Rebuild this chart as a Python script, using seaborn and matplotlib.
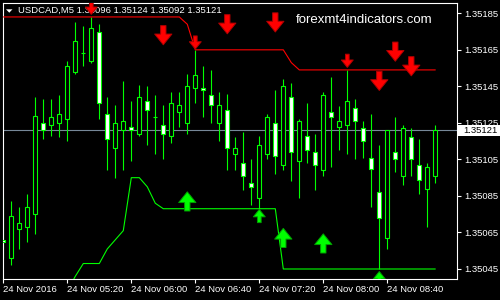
import matplotlib
matplotlib.use("Agg")
import matplotlib.pyplot as plt
import seaborn as sns
import pandas as pd
import numpy as np
from matplotlib.path import Path
from matplotlib.patches import Rectangle, Polygon

# ---------------- data ----------------
opens = [1.35061, 1.35051, 1.35067, 1.35068, 1.35075, 1.35125, 1.35124, 1.35125, 1.35127, 1.35153,
         1.35163, 1.35159, 1.35175, 1.35130, 1.35111, 1.35121, 1.35123, 1.35119, 1.35137, 1.35128,
         1.35124, 1.35118, 1.35131, 1.35125, 1.35144, 1.35144, 1.35140, 1.35125, 1.35132, 1.35108,
         1.35103, 1.35092, 1.35084, 1.35108, 1.35125, 1.35102, 1.35139, 1.35104, 1.35118, 1.35109,
         1.35099, 1.35131, 1.35123, 1.35124, 1.35133, 1.35122, 1.35106, 1.35087, 1.35062, 1.35109,
         1.35096, 1.35117, 1.35102, 1.35089, 1.35096]
highs = [1.35084, 1.35082, 1.35079, 1.35086, 1.35139, 1.35138, 1.35138, 1.35140, 1.35159, 1.35180,
         1.35178, 1.35183, 1.35179, 1.35139, 1.35135, 1.35148, 1.35137, 1.35146, 1.35145, 1.35140,
         1.35135, 1.35142, 1.35142, 1.35152, 1.35165, 1.35156, 1.35154, 1.35142, 1.35141, 1.35117,
         1.35120, 1.35105, 1.35118, 1.35130, 1.35143, 1.35149, 1.35147, 1.35127, 1.35136, 1.35119,
         1.35142, 1.35150, 1.35134, 1.35154, 1.35138, 1.35126, 1.35130, 1.35113, 1.35121, 1.35128,
         1.35124, 1.35122, 1.35116, 1.35103, 1.35124]
lows = [1.35051, 1.35047, 1.35056, 1.35060, 1.35064, 1.35116, 1.35118, 1.35117, 1.35115, 1.35152,
        1.35156, 1.35158, 1.35127, 1.35099, 1.35095, 1.35099, 1.35104, 1.35118, 1.35113, 1.35108,
        1.35105, 1.35114, 1.35123, 1.35119, 1.35136, 1.35128, 1.35125, 1.35115, 1.35099, 1.35099,
        1.35088, 1.35080, 1.35078, 1.35105, 1.35097, 1.35099, 1.35093, 1.35084, 1.35103, 1.35088,
        1.35096, 1.35101, 1.35110, 1.35108, 1.35105, 1.35106, 1.35079, 1.35045, 1.35056, 1.35098,
        1.35091, 1.35096, 1.35086, 1.35068, 1.35092]
closes = [1.35060, 1.35074, 1.35070, 1.35079, 1.35129, 1.35121, 1.35128, 1.35130, 1.35156, 1.35170,
          1.35163, 1.35177, 1.35136, 1.35116, 1.35125, 1.35126, 1.35121, 1.35139, 1.35132, 1.35128,
          1.35119, 1.35136, 1.35135, 1.35145, 1.35151, 1.35143, 1.35135, 1.35135, 1.35111, 1.35111,
          1.35096, 1.35090, 1.35113, 1.35128, 1.35107, 1.35145, 1.35109, 1.35126, 1.35110, 1.35102,
          1.35140, 1.35128, 1.35126, 1.35137, 1.35126, 1.35115, 1.35100, 1.35073, 1.35121, 1.35105,
          1.35122, 1.35105, 1.35094, 1.35101, 1.35121]

red_line = [1.35183] * 23 + [1.35179] + [1.35165] * 12 + [1.35158] + [1.35154] * 18
green_line = ([np.nan] * 8 + [1.35033, 1.35041, 1.35048, 1.35048, 1.35048, 1.35056, 1.35061, 1.35066,
              1.35095, 1.35095, 1.35090, 1.35081] + [1.35078] * 15 + [1.35045] * 20)

sell_idx = [11, 20, 24, 28, 34, 43, 47, 49, 51]
sell_price = [1.35188, 1.35173, 1.35169, 1.35179, 1.35180, 1.35159, 1.35148, 1.35164, 1.35156]
sell_big = [False, True, False, True, True, False, True, True, True]

buy_idx = [23, 32, 35, 40, 47]
buy_price = [1.35082, 1.35074, 1.35062, 1.35059, 1.35040]
buy_big = [True, False, True, True, False]

x_tick_pos = [0, 8, 16, 24, 32, 40, 48]
x_tick_labels = ["24 Nov 2016", "24 Nov 05:20", "24 Nov 06:00", "24 Nov 06:40",
                 "24 Nov 07:20", "24 Nov 08:00", "24 Nov 08:40"]
y_ticks = [1.35045, 1.35065, 1.35085, 1.35105, 1.35125, 1.35145, 1.35165, 1.35185]
last_price = 1.35121
title_text = "USDCAD,M5 1.35096 1.35124 1.35092 1.35121"
watermark = "forexmt4indicators.com"

# ---------------- style ----------------
sns.set_theme(style="dark", rc={"axes.facecolor": "black", "figure.facecolor": "black"})
plt.rcParams["font.family"] = ["Liberation Sans", "DejaVu Sans"]

LIME = "#00FF00"
W, H = 500, 300
L, R, T, B = 2.7, 457.3, 2.7, 279.3

fig = plt.figure(figsize=(5, 3), dpi=100, facecolor="black")
ax = fig.add_axes([L / W, 1 - B / H, (R - L) / W, (B - T) / H])
ax.set_facecolor("black")

df = pd.DataFrame({"idx": np.arange(len(opens)), "open": opens, "high": highs,
                   "low": lows, "close": closes, "red": red_line, "green": green_line})
bull = df["close"] >= df["open"]

ax.axhline(last_price, color="#778899", lw=0.8, zorder=1)
ax.vlines(df["idx"], df["low"], df["high"], color=LIME, lw=0.8, zorder=2)
ax.bar(df["idx"], (df["close"] - df["open"]).abs(), bottom=df[["open", "close"]].min(axis=1),
       width=0.5, color=np.where(bull, "black", "white"), edgecolor=LIME, linewidth=0.8, zorder=3)

sns.lineplot(data=df, x="idx", y="red", color="#FF0000", lw=0.8, ax=ax, zorder=4, legend=False)
sns.lineplot(data=df.dropna(subset=["green"]), x="idx", y="green", color=LIME, lw=0.8,
             ax=ax, zorder=4, legend=False)

# arrow markers
ws, wh, yb = 0.28, 0.9, 0.12
down_verts = [(-ws, 1), (ws, 1), (ws, yb), (wh, yb), (0, -1), (-wh, yb), (-ws, yb), (-ws, 1)]
down_marker = Path(down_verts, closed=True)
up_marker = Path([(x, -y) for x, y in down_verts], closed=True)
big_s, small_s = 190, 90

ax.scatter(sell_idx, sell_price, marker=down_marker,
           s=[big_s if b else small_s for b in sell_big],
           c="#FF0000", edgecolors="#B00000", linewidths=0.7, zorder=6)
ax.scatter(buy_idx, buy_price, marker=up_marker,
           s=[big_s if b else small_s for b in buy_big],
           c=LIME, edgecolors="#00A000", linewidths=0.7, zorder=6)

ax.set_xlim(-0.075, 56.75)
ax.set_ylim(1.3503936, 1.351908)
ax.set_xlabel("")
ax.set_ylabel("")

ax.set_xticks(x_tick_pos)
ax.set_xticklabels(x_tick_labels, ha="left")
ax.tick_params(axis="x", colors="white", length=3, width=0.8, pad=1, labelsize=6.8,
               direction="out", bottom=True)
ax.yaxis.tick_right()
ax.set_yticks(y_ticks)
ax.set_yticklabels([f"{v:.5f}" for v in y_ticks])
ax.tick_params(axis="y", colors="white", length=3, width=0.8, pad=2, labelsize=6.8,
               direction="out", right=True, left=False)
ax.grid(False)
for s in ax.spines.values():
    s.set_color("white")
    s.set_linewidth(0.8)

# texts
ax.text(18.3 / W, 1 - 10.5 / H, title_text, transform=fig.transFigure, color="white",
        fontsize=6.8, va="center", ha="left", zorder=5)
fig.add_artist(Polygon([(6 / W, 1 - 9.3 / H), (12.5 / W, 1 - 9.3 / H), (9.25 / W, 1 - 12.7 / H)],
                       closed=True, transform=fig.transFigure, facecolor="white", edgecolor="none"))
fig.text(295.7 / W, 1 - 20 / H, watermark, color="white", fontsize=9.5, va="center", ha="left")

fig.add_artist(Rectangle((457.3 / W, 1 - 136.3 / H), 42.7 / W, 11.6 / H, transform=fig.transFigure,
                         facecolor="white", edgecolor="none"))
fig.text(463 / W, 1 - 130.5 / H, f"{last_price:.5f}", color="black", fontsize=6.8, va="center")

fig.savefig("out.png", dpi=100, facecolor="black")
